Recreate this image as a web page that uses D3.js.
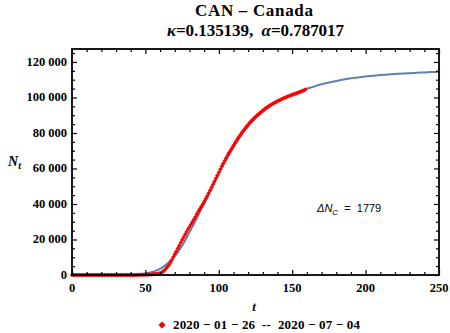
<!DOCTYPE html>
<html>
<head>
<meta charset="utf-8">
<script src="https://cdn.jsdelivr.net/npm/d3@7"></script>
<style>
  body { margin: 0; background: #fff; }
  svg { display: block; }
</style>
</head>
<body>
<div id="chart"></div>
<script>
// observed cumulative cases, one per day from 2020-01-26 (t = 0)
let observed = [
  1, 1, 1, 2, 2, 3, 3, 4, 4, 4,
  4, 4, 5, 5, 5, 5, 5, 7, 7, 7,
  7, 7, 7, 8, 8, 8, 8, 8, 8, 8,
  8, 8, 9, 11, 11, 11, 11, 12, 13, 14,
  30, 33, 40, 51, 62, 77, 93, 108, 118, 130,
  150, 180, 220, 280, 340, 420, 510, 620, 750, 880,
  1000, 1400, 2000, 2700, 3600, 4600, 5700, 7000, 8500, 10100,
  11800, 13300, 14900, 16500, 18100, 19700, 21200, 22700, 24200, 25700,
  27100, 28500, 29900, 31300, 32700, 34200, 35700, 37100, 38500, 39900,
  41300, 42800, 44300, 45900, 47600, 49300, 51000, 52700, 54400, 56100,
  57800, 59500, 61200, 62800, 64400, 65900, 67400, 68800, 70200, 71600,
  73000, 74300, 75600, 76900, 78100, 79300, 80500, 81600, 82700, 83700,
  84700, 85700, 86600, 87500, 88300, 89100, 89900, 90600, 91300, 92000,
  92700, 93300, 93900, 94500, 95100, 95600, 96100, 96600, 97100, 97500,
  97900, 98300, 98700, 99100, 99500, 99900, 100300, 100600, 100900, 101200,
  101500, 101800, 102100, 102400, 102700, 103000, 103300, 103600, 104000, 104500
];

// fitted curve
let fitT = [0, 5, 10, 15, 20, 25, 30, 35, 40, 45, 50, 55, 60, 65, 70, 75, 80, 85, 90, 95,
  100, 105, 110, 115, 120, 125, 130, 135, 140, 145, 150, 155, 160, 165, 170, 175, 180, 185, 190, 195,
  200, 205, 210, 215, 220, 225, 230, 235, 240, 245, 250];
let fitN = [0, 0, 1, 2, 5, 10, 25, 60, 150, 380, 850, 1800, 3400, 6500, 10500, 16500, 24000, 32000, 40300, 48600,
  57000, 64900, 72000, 78300, 83800, 88300, 92000, 95100, 97600, 99800, 101700, 103400, 104900, 106200, 107400, 108400, 109300, 110100, 110800, 111300,
  111800, 112200, 112600, 112900, 113200, 113500, 113700, 113900, 114100, 114300, 114500];

let xTicks = [0, 50, 100, 150, 200, 250];
let yTicks = [0, 20000, 40000, 60000, 80000, 100000, 120000];

let width = 450, height = 333;
let mLeft = 72, mRight = 439, mTop = 49, mBottom = 275;
let serif = '"Liberation Serif", "Times New Roman", serif';

let svg = d3.select('#chart').append('svg')
  .attr('width', width).attr('height', height);

let x = d3.scaleLinear().domain([0, 250]).range([mLeft, mRight]);
let y = d3.scaleLinear().domain([0, 127300]).range([mBottom, mTop]);

let fmt = function (d) {
  return d3.format(',')(d).replace(/,/g, ' ');
};

// fitted curve
let line = d3.line()
  .x(function (d) { return x(d[0]); })
  .y(function (d) { return y(d[1]); })
  .curve(d3.curveMonotoneX);

svg.append('path')
  .datum(fitT.map(function (t, i) { return [t, fitN[i]]; }))
  .attr('d', line)
  .attr('fill', 'none')
  .attr('stroke', '#5E81B5')
  .attr('stroke-width', 2);

// observed points (rotated squares)
let marker = d3.symbol().type(d3.symbolSquare).size(10);
svg.append('g')
  .selectAll('path')
  .data(observed)
  .enter()
  .append('path')
  .attr('d', marker)
  .attr('transform', function (d, i) { return 'translate(' + x(i) + ',' + y(d) + ') rotate(45)'; })
  .attr('fill', '#FF0000');

// frame ticks (inward, all four sides)
let xMinor = d3.range(0, 251, 10).filter(function (d) { return d % 50 !== 0; });
let yMinor = d3.range(0, 127300, 5000).filter(function (d) { return d % 20000 !== 0; });

let tickSide = function (axis, major, minor, offset) {
  svg.append('g').attr('class', 'tk').attr('transform', offset)
    .call(axis(major).tickSize(5)).call(function (g) { g.select('.domain').remove(); });
  svg.append('g').attr('class', 'tk').attr('transform', offset)
    .call(axis(minor).tickSize(3)).call(function (g) { g.select('.domain').remove(); });
};

let bottomAxis = function (v) { return d3.axisTop(x).tickValues(v).tickFormat(''); };
let topAxis = function (v) { return d3.axisBottom(x).tickValues(v).tickFormat(''); };
let leftAxis = function (v) { return d3.axisRight(y).tickValues(v).tickFormat(''); };
let rightAxis = function (v) { return d3.axisLeft(y).tickValues(v).tickFormat(''); };

tickSide(bottomAxis, xTicks, xMinor, 'translate(0,' + mBottom + ')');
tickSide(topAxis, xTicks, xMinor, 'translate(0,' + mTop + ')');
tickSide(leftAxis, yTicks, yMinor, 'translate(' + mLeft + ',0)');
tickSide(rightAxis, yTicks, yMinor, 'translate(' + mRight + ',0)');

svg.selectAll('.tk line').attr('stroke', '#000').attr('stroke-width', 1.2);

// tick labels
svg.append('g').selectAll('text').data(xTicks).enter().append('text')
  .attr('x', function (d) { return x(d); })
  .attr('y', 292)
  .attr('text-anchor', 'middle')
  .attr('font-family', serif)
  .attr('font-weight', 'bold')
  .attr('font-size', '12.5px')
  .text(function (d) { return d; });

svg.append('g').selectAll('text').data(yTicks).enter().append('text')
  .attr('x', 67)
  .attr('y', function (d) { return y(d) + 4; })
  .attr('text-anchor', 'end')
  .attr('font-family', serif)
  .attr('font-weight', 'bold')
  .attr('font-size', '12.5px')
  .text(fmt);

// frame
svg.append('rect')
  .attr('x', mLeft).attr('y', mTop)
  .attr('width', mRight - mLeft).attr('height', mBottom - mTop)
  .attr('fill', 'none').attr('stroke', '#000').attr('stroke-width', 1.8);

// titles
svg.append('text')
  .attr('x', 195).attr('y', 16)
  .attr('font-family', serif).attr('font-weight', 'bold').attr('font-size', '17px')
  .attr('xml:space', 'preserve')
  .attr('textLength', 118).attr('lengthAdjust', 'spacing')
  .text('CAN \u2013 Canada');

let t2 = svg.append('text')
  .attr('x', 167).attr('y', 36)
  .attr('font-family', serif).attr('font-weight', 'bold').attr('font-size', '17px')
  .attr('xml:space', 'preserve')
  .attr('textLength', 177).attr('lengthAdjust', 'spacing');
t2.append('tspan').attr('font-style', 'italic').text('\u03BA');
t2.append('tspan').text('=0.135139,  ');
t2.append('tspan').attr('font-style', 'italic').text('\u03B1');
t2.append('tspan').text('=0.787017');

// axis labels
svg.append('text')
  .attr('x', 254).attr('y', 311)
  .attr('text-anchor', 'middle')
  .attr('font-family', serif).attr('font-weight', 'bold').attr('font-style', 'italic').attr('font-size', '13px')
  .text('t');

let ny = svg.append('text')
  .attr('x', 8).attr('y', 166)
  .attr('font-family', serif).attr('font-weight', 'bold').attr('font-style', 'italic').attr('font-size', '14px');
ny.append('tspan').text('N');
ny.append('tspan').attr('font-size', '10px').attr('dy', 3).text('t');

// annotation
let an = svg.append('text')
  .attr('x', 317).attr('y', 212)
  .attr('font-family', '"Liberation Sans", Arial, sans-serif').attr('font-size', '11px')
  .attr('xml:space', 'preserve');
an.append('tspan').attr('font-style', 'italic').text('\u0394N');
an.append('tspan').attr('font-style', 'italic').attr('font-size', '8px').attr('dy', 3).text('C');
an.append('tspan').attr('dy', -3).text('  =  1779');

// legend
svg.append('path')
  .attr('d', d3.symbol().type(d3.symbolSquare).size(26))
  .attr('transform', 'translate(162,325) rotate(45)')
  .attr('fill', '#FF0000');
svg.append('text')
  .attr('x', 173).attr('y', 329)
  .attr('font-family', serif).attr('font-weight', 'bold').attr('font-size', '13px')
  .attr('xml:space', 'preserve')
  .attr('textLength', 187).attr('lengthAdjust', 'spacing')
  .text('2020 \u2212 01 \u2212 26  --  2020 \u2212 07 \u2212 04');
</script>
</body>
</html>
